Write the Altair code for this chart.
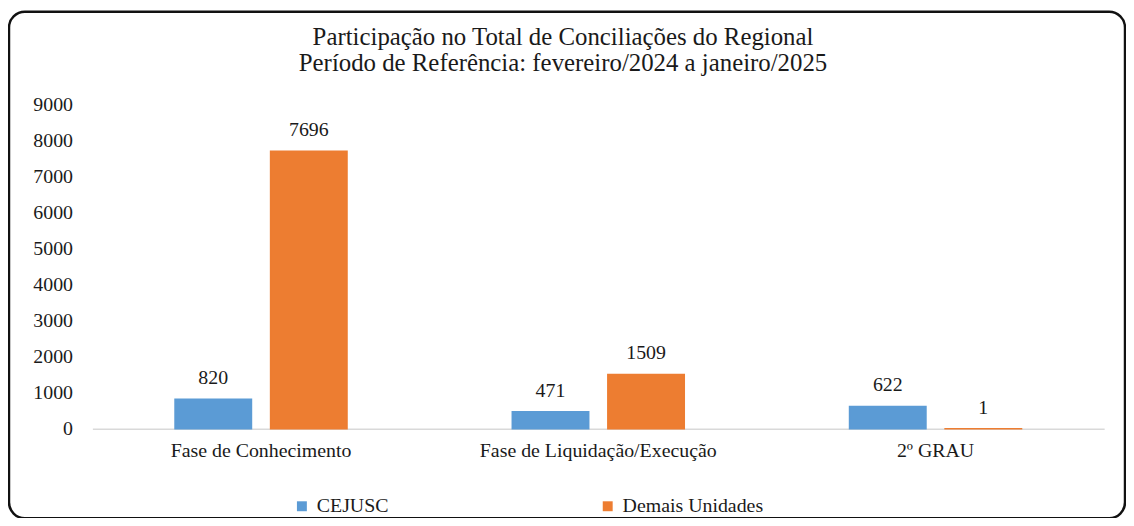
import altair as alt
import pandas as pd

categories = ["Fase de Conhecimento", "Fase de Liquidação/Execução", "2º GRAU"]
series_names = ["CEJUSC", "Demais Unidades"]
cejusc = [820, 471, 622]
demais = [7696, 1509, 1]
y_ticks = [0, 1000, 2000, 3000, 4000, 5000, 6000, 7000, 8000, 9000]
colors = ["#5B9BD5", "#ED7D31"]
title_line1 = "Participação no Total de Conciliações do Regional"
title_line2 = "Período de Referência: fevereiro/2024 a janeiro/2025"

rows = []
for c, a, b in zip(categories, cejusc, demais):
    rows.append({"cat": c, "serie": series_names[0], "valor": a})
    rows.append({"cat": c, "serie": series_names[1], "valor": b})
df = pd.DataFrame(rows)

FONT = "Liberation Serif"
TXT = "#1a1a1a"

x = alt.X("cat:N", sort=categories, title=None,
          scale=alt.Scale(paddingInner=0.49, paddingOuter=0.245),
          axis=alt.Axis(labelAngle=0, labelFontSize=20, labelFont=FONT, labelColor=TXT,
                        labelLimit=0, ticks=False, domainColor="#d9d9d9", domainWidth=1.5,
                        labelPadding=12))
xo = alt.XOffset("serie:N", sort=series_names, scale=alt.Scale(paddingInner=0.2, paddingOuter=0))
y = alt.Y("valor:Q", title=None,
          scale=alt.Scale(domain=[0, 9000], nice=False),
          axis=alt.Axis(values=y_ticks, format="d", grid=False, domain=False, ticks=False,
                        labelFontSize=20, labelFont=FONT, labelColor=TXT, labelPadding=20))
cscale = alt.Scale(domain=series_names, range=colors)
color = alt.Color("serie:N", sort=series_names, scale=cscale,
                  legend=alt.Legend(title=None, orient="none", legendX=201, legendY=395,
                                    direction="horizontal", columns=2, columnPadding=210,
                                    symbolType="square", symbolSize=100, symbolStrokeWidth=0,
                                    labelFontSize=20, labelFont=FONT, labelColor=TXT,
                                    labelOffset=5))

base = alt.Chart(df)
bars = base.mark_bar(strokeWidth=1.5).encode(
    x=x, xOffset=xo, y=y, color=color,
    stroke=alt.Stroke("serie:N", scale=cscale, legend=None))
labels = base.mark_text(dy=-21, fontSize=20, font=FONT, color=TXT).encode(
    x=x, xOffset=xo, y=y, text=alt.Text("valor:Q"))

title_df = pd.DataFrame({"k": [0]})
t1 = alt.Chart(title_df).mark_text(
    text=title_line1, fontSize=25, font=FONT, color=TXT, align="center", baseline="middle"
).encode(x=alt.value(474), y=alt.value(-68))
t2 = alt.Chart(title_df).mark_text(
    text=title_line2, fontSize=25, font=FONT, color=TXT, align="center", baseline="middle"
).encode(x=alt.value(474), y=alt.value(-41))

border = alt.Chart(title_df).mark_rect(
    fill=None, filled=False, stroke="#111111", strokeWidth=2.5, cornerRadius=16
).encode(x=alt.value(-84), x2=alt.value(1040), y=alt.value(-93), y2=alt.value(417))

chart = alt.layer(border, t1, t2, bars, labels).properties(
    width=1019, height=327,
    autosize=alt.AutoSizeParams(type="none"),
    padding={"left": 85, "top": 95, "right": 22, "bottom": 88},
).configure(background="white", font=FONT, view=alt.ViewConfig(stroke=None)
).configure_axis(labelFont=FONT).configure_legend(labelFont=FONT)

chart.save("out.html", embed_options={"renderer": "svg", "actions": False})
